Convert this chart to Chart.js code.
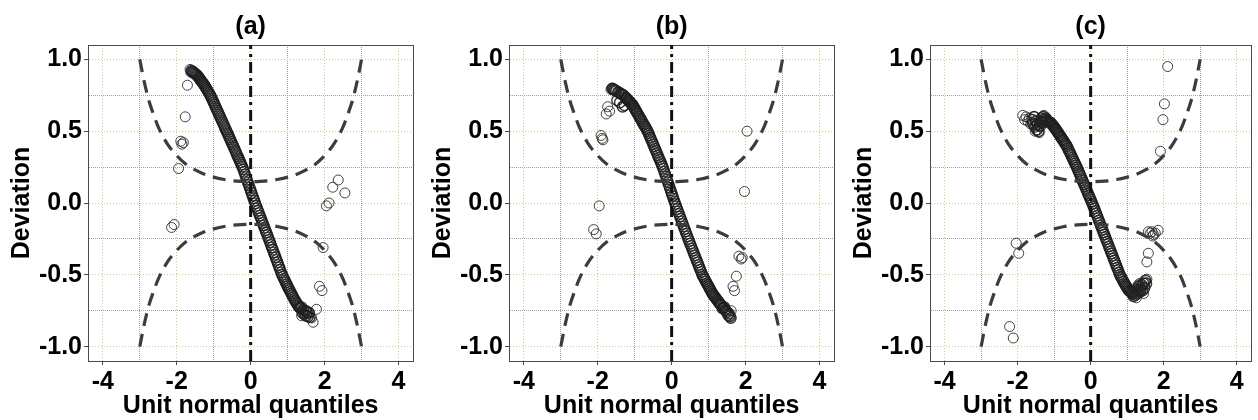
<!DOCTYPE html>
<html>
<head>
<meta charset="utf-8">
<script src="https://cdn.jsdelivr.net/npm/chart.js@4.4.1/dist/chart.umd.min.js"></script>
<style>
html,body{margin:0;padding:0;background:#ffffff;}
#wrap{position:relative;width:1258px;height:420px;overflow:hidden;background:#ffffff;}
canvas{position:absolute;top:0;}
</style>
</head>
<body>
<div id="wrap">
<canvas id="c0" width="420" height="420" style="left:0px;width:420px;height:420px"></canvas>
<canvas id="c1" width="420" height="420" style="left:421px;width:420px;height:420px"></canvas>
<canvas id="c2" width="416" height="420" style="left:842px;width:416px;height:420px"></canvas>
</div>
<script>
// ---------- texts ----------
const panelTitles = ['(a)', '(b)', '(c)'];
const xTitle = 'Unit normal quantiles';
const yTitle = 'Deviation';

// ---------- ticks ----------
const xTickValues = [-4, -3, -2, -1, 0, 1, 2, 3, 4];
const xTickLabels = ['-4', '', '-2', '', '0', '', '2', '', '4'];
const yTickValues = [-1, -0.75, -0.5, -0.25, 0, 0.25, 0.5, 0.75, 1];
const yTickLabels = ['-1.0', '', '-0.5', '', '0.0', '', '0.5', '', '1.0'];

// ---------- worm body (shared unit normal quantiles) ----------
const bodyX = [
  -1.600,-1.575,-1.550,-1.525,-1.500,-1.475,-1.450,-1.425,-1.400,-1.375,
  -1.350,-1.325,-1.300,-1.275,-1.250,-1.225,-1.200,-1.175,-1.150,-1.125,
  -1.100,-1.075,-1.050,-1.025,-1.000,-0.975,-0.950,-0.925,-0.900,-0.875,
  -0.850,-0.825,-0.800,-0.775,-0.750,-0.725,-0.700,-0.675,-0.650,-0.625,
  -0.600,-0.575,-0.550,-0.525,-0.500,-0.475,-0.450,-0.425,-0.400,-0.375,
  -0.350,-0.325,-0.300,-0.275,-0.250,-0.225,-0.200,-0.175,-0.150,-0.125,
  -0.100,-0.075,-0.050,-0.025,0.000,0.025,0.050,0.075,0.100,0.125,
  0.150,0.175,0.200,0.225,0.250,0.275,0.300,0.325,0.350,0.375,
  0.400,0.425,0.450,0.475,0.500,0.525,0.550,0.575,0.600,0.625,
  0.650,0.675,0.700,0.725,0.750,0.775,0.800,0.825,0.850,0.875,
  0.900,0.925,0.950,0.975,1.000,1.025,1.050,1.075,1.100,1.125,
  1.150,1.175,1.200,1.225,1.250,1.275,1.300,1.325,1.350,1.375,
  1.400,1.425,1.450,1.475,1.500,1.525,1.550,1.575,1.600];

const bodyYa = [
  0.92,0.915,0.91,0.905,0.90,0.895,0.89,0.881,0.873,0.864,
  0.855,0.846,0.838,0.829,0.82,0.809,0.798,0.787,0.776,0.765,
  0.754,0.741,0.727,0.713,0.699,0.685,0.670,0.656,0.642,0.628,
  0.614,0.599,0.585,0.571,0.557,0.543,0.528,0.514,0.50,0.485,
  0.471,0.456,0.442,0.427,0.413,0.398,0.384,0.369,0.355,0.340,
  0.326,0.311,0.297,0.282,0.267,0.253,0.235,0.217,0.199,0.180,
  0.162,0.143,0.125,0.107,0.088,0.070,0.051,0.033,0.015,-0.003,
  -0.020,-0.037,-0.054,-0.071,-0.088,-0.105,-0.122,-0.139,-0.155,-0.172,
  -0.189,-0.206,-0.223,-0.240,-0.257,-0.274,-0.292,-0.309,-0.326,-0.344,
  -0.361,-0.378,-0.396,-0.413,-0.431,-0.448,-0.465,-0.483,-0.50,-0.513,
  -0.527,-0.540,-0.553,-0.567,-0.58,-0.593,-0.605,-0.618,-0.63,-0.643,
  -0.655,-0.668,-0.678,-0.689,-0.699,-0.71,-0.72,-0.727,-0.733,-0.725,
  -0.765,-0.745,-0.775,-0.75,-0.785,-0.76,-0.79,-0.765,-0.795];

const bodyYb = [
  0.797,0.792,0.788,0.784,0.78,0.715,0.7725,0.769,0.70,0.761,
  0.7575,0.67,0.75,0.68,0.736,0.729,0.722,0.715,0.708,0.701,
  0.694,0.687,0.68,0.669,0.6575,0.646,0.635,0.624,0.6125,0.601,
  0.59,0.579,0.5675,0.556,0.545,0.534,0.5225,0.511,0.50,0.485,
  0.470,0.454,0.439,0.424,0.409,0.393,0.378,0.363,0.348,0.332,
  0.317,0.302,0.287,0.271,0.256,0.239,0.220,0.201,0.182,0.163,
  0.144,0.125,0.106,0.087,0.068,0.049,0.030,0.011,-0.007,-0.024,
  -0.042,-0.059,-0.076,-0.094,-0.111,-0.128,-0.146,-0.163,-0.181,-0.198,
  -0.215,-0.233,-0.25,-0.266,-0.283,-0.299,-0.316,-0.332,-0.349,-0.365,
  -0.382,-0.398,-0.414,-0.431,-0.447,-0.464,-0.48,-0.497,-0.51,-0.522,
  -0.534,-0.546,-0.558,-0.57,-0.582,-0.594,-0.606,-0.618,-0.63,-0.639,
  -0.6475,-0.656,-0.665,-0.674,-0.6825,-0.691,-0.70,-0.7075,-0.715,-0.735,
  -0.73,-0.725,-0.745,-0.7525,-0.76,-0.78,-0.77,-0.79,-0.80];

const bodyYc = [
  0.58,0.55,0.60,0.53,0.57,0.51,0.55,0.50,0.54,0.57,
  0.59,0.56,0.60,0.58,0.57,0.59,0.575,0.57,0.565,0.56,
  0.56,0.5525,0.545,0.5375,0.53,0.521,0.511,0.502,0.492,0.483,
  0.473,0.463,0.454,0.444,0.435,0.425,0.415,0.406,0.395,0.381,
  0.368,0.355,0.341,0.328,0.314,0.301,0.287,0.274,0.261,0.247,
  0.232,0.217,0.202,0.188,0.173,0.158,0.143,0.128,0.113,0.098,
  0.083,0.068,0.054,0.039,0.024,0.009,-0.007,-0.023,-0.039,-0.056,
  -0.072,-0.089,-0.105,-0.122,-0.138,-0.155,-0.171,-0.188,-0.204,-0.220,
  -0.237,-0.253,-0.270,-0.286,-0.303,-0.319,-0.336,-0.352,-0.368,-0.385,
  -0.401,-0.418,-0.434,-0.451,-0.467,-0.484,-0.50,-0.512,-0.523,-0.535,
  -0.547,-0.558,-0.57,-0.58,-0.59,-0.60,-0.61,-0.615,-0.62,-0.625,
  -0.63,-0.65,-0.62,-0.64,-0.60,-0.63,-0.61,-0.58,-0.62,-0.60,
  -0.57,-0.61,-0.56,-0.59,-0.54,-0.56,null,null,null];

// ---------- separate (tail) points ----------
const outXa = [-2.14,-2.07,-1.95,-1.89,-1.86,-1.82,-1.77,-1.71,-1.64,-1.62,
  1.38,1.45,1.51,1.59,1.65,1.69,1.78,1.86,1.93,1.96,2.05,2.12,2.22,2.37,2.55];
const outYa = [-0.17,-0.15,0.24,0.43,0.41,0.42,0.60,0.82,0.93,0.91,
  -0.785,-0.77,-0.75,-0.76,-0.80,-0.83,-0.74,-0.58,-0.61,-0.31,-0.02,0.00,0.11,0.16,0.07];

const outXb = [-2.11,-2.04,-1.96,-1.91,-1.88,-1.86,-1.77,-1.73,-1.68,-1.64,-1.62,
  1.57,1.61,1.66,1.70,1.75,1.82,1.88,1.91,1.97,2.04];
const outYb = [-0.185,-0.215,-0.02,0.47,0.45,0.44,0.62,0.67,0.64,0.79,0.80,
  -0.785,-0.75,-0.58,-0.61,-0.51,-0.37,-0.39,-0.38,0.08,0.50];

const outXc = [-2.22,-2.12,-2.04,-1.97,
  -1.86,-1.81,-1.77,-1.72,-1.68,-1.64,-1.60,-1.55,-1.52,-1.50,-1.46,-1.41,-1.37,-1.33,-1.28,-1.23,-1.19,-1.10,
  1.14,1.20,1.25,1.27,1.30,1.33,1.35,1.40,1.45,1.48,1.54,
  1.54,1.58,
  1.58,1.63,1.68,1.70,1.72,1.77,1.85,
  1.91,1.98,2.02,2.11];
const outYc = [-0.86,-0.94,-0.28,-0.35,
  0.61,0.58,0.60,0.57,0.59,0.55,0.56,0.60,0.50,0.54,0.51,0.49,0.53,0.58,0.61,0.59,0.58,0.56,
  -0.64,-0.62,-0.66,-0.60,-0.57,-0.62,-0.56,-0.58,-0.63,-0.55,-0.53,
  -0.41,-0.35,
  -0.20,-0.21,-0.20,-0.23,-0.22,-0.21,-0.19,
  0.36,0.58,0.69,0.95];

// ---------- reference bands and centre line ----------
const bandX = [-3,-2.875,-2.75,-2.625,-2.5,-2.25,-2,-1.75,-1.5,-1.25,-1,-0.75,-0.5,-0.25,0,
  0.25,0.5,0.75,1,1.25,1.5,1.75,2,2.25,2.5,2.625,2.75,2.875,3];
const bandUpper = [1.0,0.84,0.71,0.615,0.53,0.41,0.33,0.27,0.23,0.20,0.18,0.165,0.155,0.15,0.148,
  0.15,0.155,0.165,0.18,0.20,0.23,0.27,0.33,0.41,0.53,0.615,0.71,0.84,1.0];
const bandLower = [-1.0,-0.84,-0.71,-0.615,-0.53,-0.41,-0.33,-0.27,-0.23,-0.20,-0.18,-0.165,-0.155,-0.15,-0.148,
  -0.15,-0.155,-0.165,-0.18,-0.20,-0.23,-0.27,-0.33,-0.41,-0.53,-0.615,-0.71,-0.84,-1.0];
const vLineX = [0, 0];
const vLineY = [-1.1, 1.1];

// ---------- styling ----------
Chart.defaults.font.family = "'Liberation Sans', Arial, Helvetica, sans-serif";
const MAJOR_GRID = '#d2c97e';
const MINOR_GRID = '#a0a0a0';
const FRAME = '#4a4a4a';

function pairs(xs, ys) {
  const out = [];
  xs.forEach((x, i) => { if (ys[i] !== null && ys[i] !== undefined) out.push({x: x, y: ys[i]}); });
  return out;
}

function makeChart(id, title, bodyY, outX, outY, padRight) {
  new Chart(document.getElementById(id), {
    type: 'scatter',
    data: {
      datasets: [
        { data: pairs(vLineX, vLineY), showLine: true, borderColor: '#111111', borderWidth: 3,
          borderDash: [11, 5, 3, 5], pointRadius: 0, fill: false },
        { data: pairs(bandX, bandUpper), showLine: true, borderColor: '#3c3c3c', borderWidth: 3.2,
          borderDash: [13, 8], pointRadius: 0, fill: false, cubicInterpolationMode: 'monotone' },
        { data: pairs(bandX, bandLower), showLine: true, borderColor: '#3c3c3c', borderWidth: 3.2,
          borderDash: [13, 8], pointRadius: 0, fill: false, cubicInterpolationMode: 'monotone' },
        { data: pairs(outX, outY), showLine: false, pointRadius: 5, pointBorderWidth: 1,
          borderColor: 'rgba(35,35,35,0.85)', backgroundColor: 'rgba(0,0,0,0)' },
        { data: pairs(bodyX, bodyY), showLine: false, pointRadius: 5.3, pointBorderWidth: 1.4,
          borderColor: 'rgba(30,30,30,0.9)', backgroundColor: 'rgba(0,0,0,0)' }
      ]
    },
    options: {
      responsive: false,
      animation: false,
      devicePixelRatio: 1,
      layout: { padding: { left: 0, right: padRight, top: 0, bottom: 0 } },
      plugins: { legend: { display: false }, tooltip: { enabled: false }, title: { display: false } },
      scales: {
        x: {
          type: 'linear', position: 'bottom', min: -4.4, max: 4.4,
          afterBuildTicks: s => { s.ticks = xTickValues.map(v => ({ value: v })); },
          afterFit: s => { s.height = 59; },
          ticks: { autoSkip: false, maxRotation: 0, minRotation: 0, padding: 2, color: '#000000',
                   font: { size: 25, weight: 'bold' }, callback: (v, i) => xTickLabels[i] },
          grid: { lineWidth: 1, tickLength: 4, drawTicks: true,
                  color: c => xTickLabels[c.index] ? MAJOR_GRID : MINOR_GRID,
                  tickColor: c => xTickLabels[c.index] ? FRAME : 'rgba(0,0,0,0)' },
          border: { display: true, color: FRAME, width: 1,
                    dash: c => xTickLabels[c.index] ? [1, 2] : [1, 1] },
          title: { display: true, text: xTitle, color: '#000000',
                   font: { size: 25, weight: 'bold', lineHeight: 1.0 }, padding: { top: 0, bottom: 1 } }
        },
        y: {
          type: 'linear', position: 'left', min: -1.1, max: 1.1,
          afterBuildTicks: s => { s.ticks = yTickValues.map(v => ({ value: v })); },
          afterFit: s => { s.width = 88; },
          ticks: { autoSkip: false, padding: 2, color: '#000000',
                   font: { size: 25, weight: 'bold' }, callback: (v, i) => yTickLabels[i] },
          grid: { lineWidth: 1, tickLength: 4, drawTicks: true,
                  color: c => yTickLabels[c.index] ? MAJOR_GRID : MINOR_GRID,
                  tickColor: c => yTickLabels[c.index] ? FRAME : 'rgba(0,0,0,0)' },
          border: { display: true, color: FRAME, width: 1,
                    dash: c => yTickLabels[c.index] ? [1, 2] : [1, 1] },
          title: { display: true, text: yTitle, color: '#000000',
                   font: { size: 25, weight: 'bold', lineHeight: 1.2 }, padding: { top: 7, bottom: 0 } }
        },
        x2: {
          type: 'linear', position: 'top', min: -4.4, max: 4.4,
          ticks: { display: false }, grid: { display: false, drawTicks: false },
          border: { display: true, color: FRAME, width: 1 },
          afterFit: s => { s.height = 45; },
          title: { display: true, text: title, color: '#000000',
                   font: { size: 25, weight: 'bold', lineHeight: 1.2 }, padding: { top: 12, bottom: 0 } }
        },
        y2: {
          type: 'linear', position: 'right', min: -1.1, max: 1.1,
          ticks: { display: false }, grid: { display: false, drawTicks: false },
          border: { display: true, color: FRAME, width: 1 },
          afterFit: s => { s.width = 0; }
        }
      }
    }
  });
}

makeChart('c0', panelTitles[0], bodyYa, outXa, outYa, 5);
makeChart('c1', panelTitles[1], bodyYb, outXb, outYb, 5);
makeChart('c2', panelTitles[2], bodyYc, outXc, outYc, 1);
</script>
</body>
</html>
